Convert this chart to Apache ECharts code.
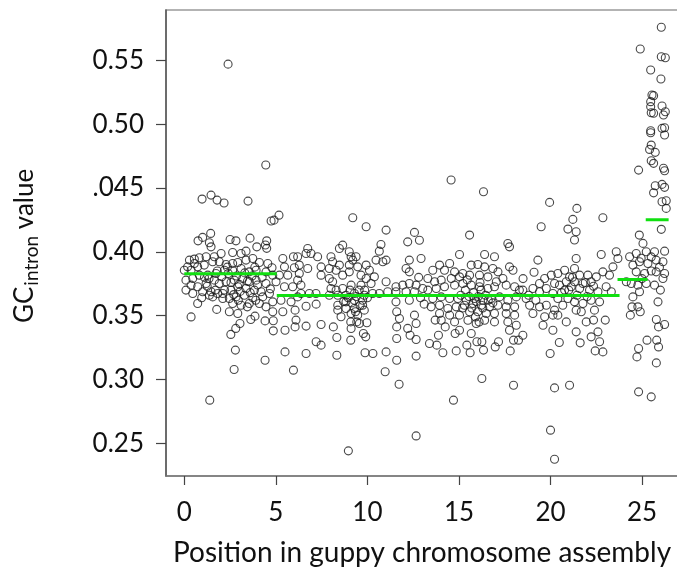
<!DOCTYPE html>
<html><head><meta charset="utf-8">
<script src="https://cdn.jsdelivr.net/npm/echarts@6/dist/echarts.min.js"></script>
<style>html,body{margin:0;padding:0;background:#fff}#c{width:677px;height:574px}</style>
</head><body><div id="c"></div>
<script>
// ---- tick labels / titles ----
const xTicks = [0, 5, 10, 15, 20, 25];
const xTickLabels = ['0', '5', '10', '15', '20', '25'];
const yTicks = [0.25, 0.30, 0.35, 0.40, 0.45, 0.50, 0.55];
const yTickLabels = ['0.25', '0.30', '0.35', '0.40', '.045', '0.50', '0.55'];
const xTitle = 'Position in guppy chromosome assembly';
const yTitleMain = 'GC', yTitleSub = 'intron', yTitleTail = ' value';

// ---- mean segments (green) ----
const segStart = [0, 5.05, 23.66, 25.2];
const segEnd   = [5.05, 23.77, 25.3, 26.45];
const segMean  = [0.3828, 0.3658, 0.3784, 0.4251];

// ---- points: [position, GC intron] ----
const ptsA = [
[2.39,0.547],[4.45,0.468],[0.97,0.4413],[1.46,0.4444],[1.79,0.4405],[2.17,0.4382],[3.48,0.4397],[4.74,0.4241],[4.90,0.4248],[5.17,0.4287],
[0.75,0.4086],[1.00,0.4113],[1.44,0.4144],[1.37,0.4071],[1.46,0.4039],[2.50,0.4097],[2.82,0.4086],[3.59,0.4107],[3.96,0.4039],[4.50,0.4086],[4.43,0.4053],[4.50,0.4027],
[3.37,0.4005],[3.10,0.3987],[2.64,0.3995],[2.01,0.3987],[1.64,0.3961],[1.19,0.3961],[0.82,0.3953],[0.55,0.3943],[0.28,0.3935],[0.55,0.3909],[0.18,0.3882],[0.00,0.3856],[0.37,0.3856],[0.73,0.3882],[1.09,0.3896],[1.55,0.3922],[1.91,0.3922],[2.28,0.3901],[2.64,0.3909],[2.92,0.3916],[3.37,0.3935],[3.74,0.3948],[4.10,0.3916],[4.56,0.3909],[4.79,0.3875],[5.38,0.3948],[5.96,0.3961],[5.47,0.3882],[6.01,0.3875],[5.65,0.3817],[5.19,0.3817],[4.83,0.3817],[4.46,0.3843],[3.92,0.3856],[3.55,0.3843],[3.10,0.3869],[2.64,0.3856],[2.19,0.3856],[1.73,0.3830],[1.28,0.3817],[0.82,0.3817],[0.46,0.3791],[0.09,0.3778],[0.37,0.3739],[0.73,0.3726],[1.19,0.3752],[1.64,0.3778],[1.91,0.3752],[2.28,0.3765],[2.73,0.3778],[3.19,0.3791],[3.55,0.3765],[3.92,0.3778],[4.46,0.3752],[5.01,0.3765],[5.47,0.3726],[5.92,0.3726],[0.09,0.3700],[0.46,0.3673],[1.00,0.3687],[1.46,0.3687],[1.82,0.3673],[2.10,0.3673],[2.55,0.3700],[2.92,0.3726],[3.37,0.3713],[3.83,0.3700],[4.19,0.3687],[4.65,0.3673],[4.28,0.3647],[3.74,0.3640],[3.28,0.3660],[2.83,0.3647],[2.46,0.3634],[2.10,0.3634],[1.55,0.3647],[1.37,0.3660],[0.73,0.3595],[2.64,0.3595],[3.10,0.3582],[3.55,0.3595],[4.10,0.3595],[4.46,0.3569],[4.83,0.3608],[5.28,0.3621],[5.83,0.3608],[2.46,0.3530],[2.92,0.3517],[4.83,0.3530],
[0.37,0.349],[1.77,0.3549],[2.54,0.3353],[2.81,0.340],[2.79,0.323],[2.72,0.3078],[1.39,0.2838],[3.04,0.3439],[3.44,0.3569],[3.63,0.347],[3.86,0.3496],[4.41,0.3459],[4.41,0.3151],[4.86,0.3381],[4.86,0.346],[5.38,0.353],[5.50,0.3216],[5.96,0.3073],[5.50,0.3386],[6.05,0.3412],[6.65,0.3418],[6.65,0.3204],[7.20,0.3295],[7.47,0.3269],[7.47,0.3431],[7.20,0.359],[6.65,0.3574],[6.05,0.3543],[6.10,0.3465],[8.14,0.3412],[8.33,0.3329],[8.33,0.319],
[1.35,0.3790],[1.80,0.3850],[2.05,0.3805],[2.40,0.3830],[2.55,0.3760],[2.85,0.3810],[3.00,0.3745],[3.30,0.3835],[3.45,0.3770],[3.70,0.3810],[4.00,0.3740],[2.20,0.3700],[2.70,0.3665],[3.05,0.3690],[3.60,0.3680],[1.70,0.3700],[1.25,0.3730],[2.35,0.3880],[3.85,0.3880],[4.25,0.3800],[2.95,0.3620],[3.90,0.3620],[0.95,0.3640],[1.10,0.3800],[4.70,0.3710]
];
const ptsB = [
[9.93,0.4196],[11.02,0.4170],[12.57,0.4152],[12.20,0.4078],[12.84,0.4091],[10.74,0.4057],[10.65,0.4005],[8.65,0.4052],[8.47,0.4026],[6.74,0.4026],[6.92,0.3987],[7.28,0.3961],[6.65,0.3987],[6.19,0.3961],[8.01,0.3961],[8.10,0.3922],[9.01,0.4000],[9.11,0.3961],[9.38,0.3961],[9.20,0.3935],[9.01,0.3896],[8.47,0.3896],[8.29,0.3856],[7.92,0.3869],[7.47,0.3882],[6.28,0.3896],[6.74,0.3869],[6.28,0.3830],[6.19,0.3778],[6.37,0.3739],[7.47,0.3817],[7.92,0.3791],[8.10,0.3765],[8.65,0.3817],[9.01,0.3843],[9.47,0.3882],[9.93,0.3896],[10.11,0.3856],[9.65,0.3817],[9.93,0.3791],[10.38,0.3804],[10.84,0.3922],[10.47,0.3935],[11.02,0.3935],[12.29,0.3935],[12.93,0.3948],[12.11,0.3869],[12.29,0.3843],[11.02,0.3765],[10.20,0.3752],[9.65,0.3739],[9.11,0.3739],[8.65,0.3713],[8.29,0.3700],[8.01,0.3713],[11.56,0.3726],[11.93,0.3739],[12.29,0.3752],[12.66,0.3739],[13.02,0.3713],[12.57,0.3687],[12.11,0.3687],[11.56,0.3687],[11.11,0.3687],[10.65,0.3673],[10.29,0.3673],[9.83,0.3660],[9.29,0.3673],[8.83,0.3660],[8.38,0.3660],[7.92,0.3660],[7.19,0.3673],[6.83,0.3673],[6.37,0.3673],[6.19,0.3647],[8.38,0.3582],[8.83,0.3608],[9.29,0.3621],[9.74,0.3621],[8.38,0.3543],[8.83,0.3556],[9.29,0.3556],[9.74,0.3582],[8.56,0.3491],[9.11,0.3517],[9.47,0.3504],[9.83,0.3543],[9.56,0.3438],[9.11,0.3399],[11.56,0.3608],[12.29,0.3621],[11.75,0.3478],[12.57,0.3504],[11.02,0.3216],
[9.09,0.3308],[9.09,0.3451],[9.42,0.3451],[9.78,0.3360],[9.91,0.3334],[9.87,0.3209],[10.30,0.3204],[9.97,0.3444],[8.96,0.2441],[10.97,0.3060],[11.60,0.3151],[11.73,0.2963],[11.60,0.3321],[11.60,0.3412],[11.60,0.3530],[12.20,0.3400],[12.33,0.3347],[12.66,0.3439],[12.66,0.3313],[12.66,0.3183],[12.66,0.2558],[9.20,0.4267],
[8.95,0.3640],[9.15,0.3600],[9.40,0.3650],[9.55,0.3700],[9.05,0.3700],[9.60,0.3580],[9.35,0.3530],[8.70,0.3610],[10.00,0.3640],[9.85,0.3700],[12.90,0.3640],[13.10,0.3590],[12.80,0.3800]
];
const ptsC = [
[15.58,0.4131],[17.67,0.4065],[17.76,0.4039],[19.49,0.4196],[19.31,0.3935],[15.03,0.3979],[16.40,0.3979],[16.94,0.3961],[14.49,0.3909],[13.94,0.3896],[13.57,0.3856],[14.21,0.3856],[14.76,0.3843],[15.21,0.3830],[15.67,0.3896],[16.03,0.3901],[16.40,0.3882],[16.85,0.3869],[17.13,0.3843],[17.76,0.3882],[17.95,0.3856],[17.40,0.3791],[17.04,0.3765],[16.58,0.3804],[16.12,0.3817],[15.58,0.3817],[15.03,0.3804],[14.58,0.3791],[14.03,0.3778],[13.67,0.3765],[13.30,0.3791],[13.30,0.3700],[13.76,0.3713],[14.21,0.3726],[14.76,0.3739],[15.21,0.3752],[15.67,0.3739],[16.12,0.3726],[16.58,0.3713],[16.94,0.3726],[17.58,0.3739],[18.04,0.3726],[18.49,0.3700],[19.04,0.3713],[19.40,0.3752],[19.68,0.3791],[20.04,0.3817],[20.22,0.3752],[19.77,0.3713],[20.13,0.3673],[19.40,0.3687],[18.67,0.3634],[18.13,0.3647],[17.67,0.3621],[17.22,0.3647],[16.76,0.3634],[16.31,0.3621],[15.85,0.3634],[15.40,0.3621],[14.94,0.3634],[14.49,0.3634],[14.03,0.3647],[13.57,0.3634],[13.48,0.3569],[13.94,0.3582],[14.39,0.3556],[14.85,0.3569],[15.30,0.3582],[15.76,0.3595],[16.22,0.3582],[16.67,0.3569],[17.13,0.3582],[17.58,0.3569],[18.04,0.3569],[18.86,0.3582],[19.40,0.3569],[19.77,0.3582],[20.22,0.3543],[13.94,0.3517],[14.49,0.3504],[15.03,0.3504],[15.58,0.3530],[16.03,0.3530],[16.49,0.3517],[16.94,0.3517],[17.58,0.3517],[18.04,0.3504],[19.04,0.3517],[19.68,0.3491],[20.13,0.3504],[14.03,0.3464],[14.76,0.3451],[15.49,0.3464],[15.94,0.3438],[16.40,0.3464],[16.94,0.3451],[17.67,0.3451],[18.13,0.3425],[19.59,0.3425],[20.13,0.3386],[15.03,0.3386],[15.67,0.3360],[18.49,0.3347],
[13.39,0.3282],[13.79,0.3269],[14.12,0.3209],[13.88,0.3347],[13.70,0.3465],[14.25,0.3412],[14.70,0.2838],[14.85,0.3224],[14.79,0.3360],[15.43,0.3269],[15.61,0.3209],[15.98,0.3295],[16.25,0.3295],[16.25,0.3008],[16.34,0.3230],[16.98,0.3255],[17.16,0.3295],[17.80,0.3224],[17.98,0.2955],[17.98,0.3308],[18.25,0.3308],[17.76,0.3386],[19.98,0.3204],[20.22,0.2934],[20.00,0.2603],[20.22,0.2375],[20.48,0.3290],
[16.34,0.4470],[14.57,0.4562],[19.95,0.4387],
[15.10,0.3660],[15.35,0.3700],[15.55,0.3650],[15.80,0.3680],[16.05,0.3650],[16.20,0.3700],[16.45,0.3660],[15.70,0.3560],[15.95,0.3610],[16.30,0.3560],[16.60,0.3620],[15.20,0.3560],[16.85,0.3600],[16.15,0.3760],[15.45,0.3780],[15.90,0.3490],[16.10,0.3450],
[18.30,0.3700],[18.80,0.3660],[19.20,0.3620],[18.50,0.3790],[19.10,0.3840]
];
const ptsD = [
[21.44,0.4340],[21.22,0.4254],[22.86,0.4267],[20.95,0.4178],[21.40,0.4157],[21.31,0.4092],[21.40,0.3948],
[22.77,0.3979],[23.59,0.4000],[23.68,0.3948],[23.41,0.3882],[22.86,0.3843],[23.22,0.3817],[21.31,0.3869],[20.77,0.3856],[20.40,0.3830],[21.04,0.3804],[21.59,0.3817],[22.04,0.3817],[22.50,0.3804],[22.22,0.3765],[21.77,0.3752],[21.31,0.3765],[20.86,0.3765],[20.49,0.3739],[20.77,0.3700],[21.13,0.3726],[21.59,0.3713],[22.13,0.3700],[22.59,0.3687],[23.04,0.3726],[23.32,0.3687],[20.40,0.3634],[20.95,0.3634],[21.31,0.3608],[21.77,0.3595],[22.22,0.3621],[22.68,0.3608],[20.67,0.3582],[21.40,0.3543],[21.68,0.3530],[22.40,0.3543],[21.95,0.3451],[22.59,0.3373],[20.40,0.3504],
[21.04,0.2955],[20.86,0.3451],[21.40,0.3373],[21.62,0.3287],[22.22,0.3334],[22.44,0.3224],[22.86,0.3216],[22.68,0.3295],[22.35,0.3465],[22.99,0.3465],
[21.00,0.3700],[21.45,0.3660],[21.90,0.3760],[22.35,0.3730],[21.20,0.3800],[20.60,0.3680],[22.00,0.3650]
];
const ptsE = [
[24.68,0.3987],[24.32,0.3961],[25.23,0.4000],[25.68,0.4000],[26.23,0.4005],[25.77,0.3935],[26.14,0.3922],[25.32,0.3909],[24.86,0.3922],[24.50,0.3896],[24.68,0.3843],[25.14,0.3830],[25.77,0.3843],[26.23,0.3830],[26.14,0.3791],[25.68,0.3739],[25.23,0.3752],[24.77,0.3739],[24.41,0.3752],[24.14,0.3765],[24.86,0.3687],[24.50,0.3647],[24.77,0.3569],
[24.72,0.3177],[24.81,0.3243],[24.81,0.2903],[25.27,0.3308],[25.50,0.2864],[25.78,0.3130],[25.90,0.3255],[25.80,0.3308],[25.90,0.3412],[25.78,0.3470],[26.23,0.3431],[25.87,0.3608],[24.45,0.3569],[24.90,0.3530],[24.36,0.3504],
[26.05,0.5759],[24.90,0.5589],[26.05,0.5528],[26.27,0.5520],[25.47,0.5424],[26.03,0.5353],[25.54,0.5228],[25.63,0.5223],[25.47,0.5176],[25.47,0.5137],[25.50,0.5089],[25.63,0.5085],[26.09,0.5142],[26.17,0.5071],[26.27,0.5097],[26.09,0.4967],[26.23,0.4972],[26.23,0.4915],[25.47,0.4948],[25.47,0.4933],[25.50,0.4836],[25.41,0.4802],[25.72,0.4779],[25.50,0.4713],[25.63,0.4693],[26.17,0.4654],[26.23,0.4635],[24.81,0.4640],[25.72,0.4517],[25.63,0.4462],[26.09,0.4528],[26.23,0.4505],[26.09,0.4392],[26.32,0.4400],[26.32,0.4340],[26.05,0.4176],[24.85,0.4131],[25.05,0.4066],
[25.00,0.3790],[25.50,0.3850],[25.95,0.3880],[24.95,0.3950],[25.50,0.3960],[26.00,0.3700]
];

// ---- build chart ----
const FONT = 'Lato';
const allPts = [].concat(ptsA, ptsB, ptsC, ptsD, ptsE);
const labelFor = (ticks, labels, v) => {
  for (let i = 0; i < ticks.length; i++) if (Math.abs(ticks[i] - v) < 1e-6) return labels[i];
  return '';
};
const ctx = document.createElement('canvas').getContext('2d');
ctx.font = '26px ' + FONT; const wGC = ctx.measureText(yTitleMain).width;
ctx.font = '19px ' + FONT; const wSub = ctx.measureText(yTitleSub).width;

const segSeries = segMean.map((m, i) => ({
  type: 'line', silent: true, symbol: 'none', z: 5, animation: false,
  lineStyle: { color: '#10e010', width: 3 },
  data: [[segStart[i], m], [segEnd[i], m]]
}));

const chart = echarts.init(document.getElementById('c'), null, { renderer: 'canvas' });
chart.setOption({
  animation: false,
  backgroundColor: '#fff',
  grid: { left: 166, right: -20, top: 10, bottom: 98, show: true, borderColor: '#9a9a9a', borderWidth: 1.5, outerBoundsMode: 'none', containLabel: false },
  xAxis: {
    type: 'value', min: -1, max: 28,
    axisLine: { show: true, onZero: false, lineStyle: { color: '#777', width: 1.5 } },
    axisTick: { show: true, length: 9, customValues: xTicks, lineStyle: { color: '#444', width: 1.2 } },
    axisLabel: { customValues: xTicks, margin: 24, fontFamily: FONT, fontSize: 26, color: '#111',
      formatter: v => labelFor(xTicks, xTickLabels, v) },
    splitLine: { show: false }
  },
  yAxis: {
    type: 'value', min: 0.2244, max: 0.5894,
    axisLine: { show: true, onZero: false, lineStyle: { color: '#555', width: 1.5 } },
    axisTick: { show: true, length: 10, customValues: yTicks, lineStyle: { color: '#444', width: 1.2 } },
    axisLabel: { customValues: yTicks, margin: 22, fontFamily: FONT, fontSize: 26, color: '#111',
      formatter: v => labelFor(yTicks, yTickLabels, v) },
    splitLine: { show: false }
  },
  graphic: [
    { type: 'text', left: 173, top: 539, silent: true,
      style: { text: xTitle, font: '28px ' + FONT, fill: '#111' } },
    { type: 'group', x: 25, y: 323, rotation: Math.PI / 2, silent: true, children: [
      { type: 'text', x: 0, y: 0, style: { text: yTitleMain, font: '26px ' + FONT, fill: '#111', textAlign: 'left', textVerticalAlign: 'middle', align: 'left', verticalAlign: 'middle' } },
      { type: 'text', x: wGC + 1, y: 7, style: { text: yTitleSub, font: '19px ' + FONT, fill: '#111', textAlign: 'left', textVerticalAlign: 'middle', align: 'left', verticalAlign: 'middle' } },
      { type: 'text', x: wGC + 1 + wSub, y: 0, style: { text: yTitleTail, font: '26px ' + FONT, fill: '#111', textAlign: 'left', textVerticalAlign: 'middle', align: 'left', verticalAlign: 'middle' } }
    ]}
  ],
  series: [{
    type: 'scatter', silent: true, z: 3, symbol: 'circle', symbolSize: 8,
    itemStyle: { color: 'rgba(255,255,255,0)', borderColor: '#1a1a1a', borderWidth: 1.1 },
    data: allPts
  }].concat(segSeries)
});
</script>
</body></html>
